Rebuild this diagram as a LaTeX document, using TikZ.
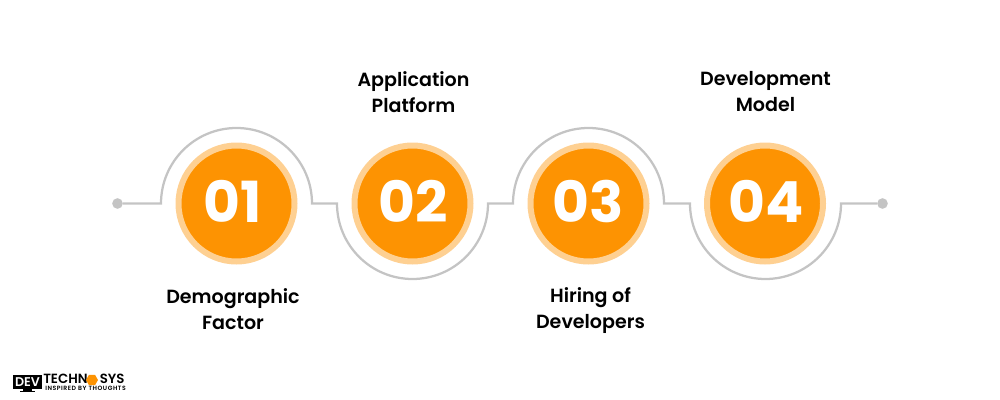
\documentclass[tikz,border=0pt]{standalone}
\usepackage{fontspec}
\setmainfont{Poppins}[BoldFont={Poppins SemiBold}]
\newfontfamily\digitfont{Poppins}[UprightFont={* Bold}]
\usetikzlibrary{shapes.geometric}

\tikzset{
  numdisc/.style={circle,draw={rgb,255:red,254;green,208;blue,146},line width=4.5pt,fill={rgb,255:red,253;green,147;blue,2},minimum size=87pt,inner sep=0pt},
  numtext/.style={text=white,inner sep=0pt,font=\digitfont\fontsize{42.5}{42.5}\selectfont},
  labeltext/.style={align=center,font=\fontsize{14.3}{19.5}\selectfont\bfseries,text=black},
  wireline/.style={draw={rgb,255:red,196;green,196;blue,196},line width=1.7pt},
  enddot/.style={circle,fill={rgb,255:red,196;green,196;blue,196},inner sep=0pt,minimum size=8pt},
  logotext/.style={anchor=west,inner sep=0pt,font=\fontsize{10}{10}\selectfont\bfseries}
}

\begin{document}
\begin{tikzpicture}[x=0.75pt,y=0.75pt,yscale=-1,xscale=1]
\useasboundingbox (0,0) rectangle (1000,400);

% End dots
\node[enddot] (dotL) at (117.5,203.5) {};
\node[enddot] (dotR) at (882.5,203.5) {};

% Wire
\coordinate (w1) at (161,203.5);
\coordinate (w3) at (337,203.5);
\coordinate (w5) at (513,203.5);
\coordinate (w7) at (690,203.5);
\draw[wireline] (dotL) -- (w1) arc[start angle=180,end angle=360,radius=75.5] -- (w3)
  arc[start angle=180,end angle=0,radius=75.5] -- (w5)
  arc[start angle=180,end angle=360,radius=75.5] -- (w7)
  arc[start angle=180,end angle=0,radius=75.5] -- (dotR);

% Discs
\node[numdisc] (disc1) at (236.5,203.5) {};
\node[numdisc] (disc2) at (412.5,203.5) {};
\node[numdisc] (disc3) at (588.5,203.5) {};
\node[numdisc] (disc4) at (765,203.5) {};
\node[numtext] (num1) at (233,201.5) {01};
\node[numtext] (num2) at (413,201.5) {02};
\node[numtext] (num3) at (588.5,201.5) {03};
\node[numtext] (num4) at (766,201.5) {04};

% Labels
\node[labeltext] (label1) at (233,309) {Demographic\\Factor};
\node[labeltext] (label2) at (413.5,92) {Application\\Platform};
\node[labeltext] (label3) at (590.5,310.5) {Hiring of\\Developers};
\node[labeltext] (label4) at (765.5,92) {Development\\Model};

% Logo
\fill[black] (13,375) rectangle (42,389);
\fill[black] (23,389) rectangle (32,391);
\fill[black] (20,391) rectangle (35,392);
\node[text=white,font=\fontsize{9.5}{9.5}\selectfont\bfseries,inner sep=0pt] (logoDev) at (27.5,382) {DEV};
\node[logotext] (logoTech) at (43,379) {TECHN};
\node[regular polygon,regular polygon sides=6,fill={rgb,255:red,253;green,147;blue,2},inner sep=0pt,minimum size=9pt] (logoHex) at (92,380) {};
\node[logotext] (logoSys) at (99.5,379) {SYS};
\node[anchor=west,inner sep=0pt,font=\addfontfeature{LetterSpace=9}\fontsize{4.6}{4.6}\selectfont\bfseries] (logoTag) at (45,388.5) {INSPIRED BY THOUGHTS};

\end{tikzpicture}
\end{document}
